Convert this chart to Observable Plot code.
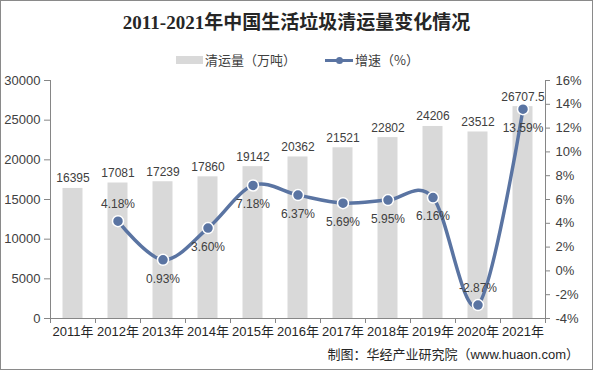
<!DOCTYPE html>
<html><head><meta charset="utf-8">
<script src="https://cdn.jsdelivr.net/npm/d3@7"></script>
<script src="https://cdn.jsdelivr.net/npm/@observablehq/plot@0.6"></script>
<style>
html,body{margin:0;padding:0;background:#fff;}
#wrap{position:relative;width:593px;height:372px;overflow:hidden;font-family:"Liberation Sans","Noto Sans CJK SC",sans-serif;color:#262626;}
#chart{position:absolute;left:0;top:0;}
#frame{position:absolute;left:0;top:0;width:591px;height:368px;border:1px solid #8a8a8a;pointer-events:none;}
#title{position:absolute;left:0;width:593px;top:10px;text-align:center;font:bold 19px "Liberation Serif","Noto Sans CJK SC",serif;color:#262626;line-height:26px;}
.leg{position:absolute;top:51px;font-size:13px;line-height:18px;color:#404040;white-space:nowrap;font-family:"Noto Sans CJK SC",sans-serif;}
#legbar{position:absolute;left:176px;top:56px;width:27px;height:8px;background:#D9D9D9;}
#legline{position:absolute;left:325px;top:58.5px;width:28px;height:3px;background:#5A74A2;}
#legdot{position:absolute;left:335.5px;top:56.5px;width:7px;height:7px;border-radius:50%;background:#5A74A2;}
#caption{position:absolute;right:14px;top:346px;font-size:13px;line-height:18px;color:#262626;white-space:nowrap;}
</style></head>
<body>
<div id="wrap">
  <div id="chart"></div>
  <div id="title">2011-2021年中国生活垃圾清运量变化情况</div>
  <div id="legbar"></div><div class="leg" style="left:205px">清运量（万吨）</div>
  <div id="legline"></div><div id="legdot"></div><div class="leg" style="left:355px">增速（%）</div>
  <div id="caption">制图：华经产业研究院（www.huaon.com）</div>
  <div id="frame"></div>
</div>
<script>
const years = [2011, 2012, 2013, 2014, 2015, 2016, 2017, 2018, 2019, 2020, 2021];
const volume = [16395, 17081, 17239, 17860, 19142, 20362, 21521, 22802, 24206, 23512, 26707.5];
const growth = [null, 4.18, 0.93, 3.60, 7.18, 6.37, 5.69, 5.95, 6.16, -2.87, 13.59];
const labelAboveYears = [2012, 2020];
const volumeTicks = [0, 5000, 10000, 15000, 20000, 25000, 30000];
const growthTicks = [-4, -2, 0, 2, 4, 6, 8, 10, 12, 14, 16];

// map growth (%) onto the volume axis: -4% -> 0, 16% -> 30000
const gMin = -4, gMax = 16, vMax = 30000;
const toY = g => (g - gMin) / (gMax - gMin) * vMax;
const fromY = v => Math.round(v / vMax * (gMax - gMin) + gMin);

const bars = years.map((year, i) => ({year, volume: volume[i]}));
const line = years.map((year, i) => ({year, growth: growth[i]})).filter(d => d.growth != null);
const boundaries = [years[0] - 0.5, ...years.map(y => y + 0.5)];
const halfBar = 0.222;
const lineColor = "#5A74A2";
const axisColor = "#868686";

const chart = Plot.plot({
  width: 593,
  height: 372,
  marginLeft: 50,
  marginRight: 48,
  marginTop: 80,
  marginBottom: 54,
  x: {domain: [years[0] - 0.5, years[years.length - 1] + 0.5]},
  y: {domain: [0, vMax]},
  style: {fontFamily: '"Liberation Sans","Noto Sans CJK SC",sans-serif', fontSize: "13px", color: "#404040", background: "white"},
  marks: [
    Plot.rectY(bars, {x1: d => d.year - halfBar, x2: d => d.year + halfBar, y: "volume", fill: "#D9D9D9"}),
    Plot.ruleX([boundaries[0]], {stroke: axisColor}),
    Plot.ruleX([boundaries[boundaries.length - 1]], {stroke: axisColor}),
    Plot.ruleY([0], {stroke: axisColor}),
    Plot.axisY(volumeTicks, {anchor: "left", tickSize: 6, tickPadding: 4, stroke: axisColor, fill: "#404040", tickFormat: d => String(d), label: null, fontSize: 13}),
    Plot.axisY(growthTicks.map(toY), {anchor: "right", tickSize: 4, tickPadding: 6, stroke: axisColor, fill: "#404040", tickFormat: d => fromY(d) + "%", label: null, fontSize: 13}),
    Plot.axisX(boundaries, {tickSize: 5, tickFormat: () => "", stroke: axisColor, label: null}),
    Plot.axisX(years, {tickSize: 0, tickPadding: 8, tickFormat: d => d + "年", fill: "#262626", label: null, fontSize: 13, fontFamily: '"Liberation Sans","Noto Sans CJK SC",sans-serif'}),
    Plot.text(bars, {x: "year", y: "volume", text: d => String(d.volume), lineAnchor: "bottom", dy: -6, fontSize: 12, fill: "#404040"}),
    Plot.line(line, {x: "year", y: d => toY(d.growth), stroke: lineColor, strokeWidth: 3.5, curve: "cardinal"}),
    Plot.dot(line, {x: "year", y: d => toY(d.growth), r: 5.5, fill: lineColor, stroke: "white", strokeWidth: 1.5}),
    Plot.text(line.filter(d => labelAboveYears.includes(d.year)), {x: "year", y: d => toY(d.growth), text: d => d.growth.toFixed(2) + "%", dy: -17, fontSize: 12, fill: "#404040"}),
    Plot.text(line.filter(d => !labelAboveYears.includes(d.year)), {x: "year", y: d => toY(d.growth), text: d => d.growth.toFixed(2) + "%", dy: 19, fontSize: 12, fill: "#404040"})
  ]
});
document.getElementById("chart").appendChild(chart);
</script>
</body></html>
